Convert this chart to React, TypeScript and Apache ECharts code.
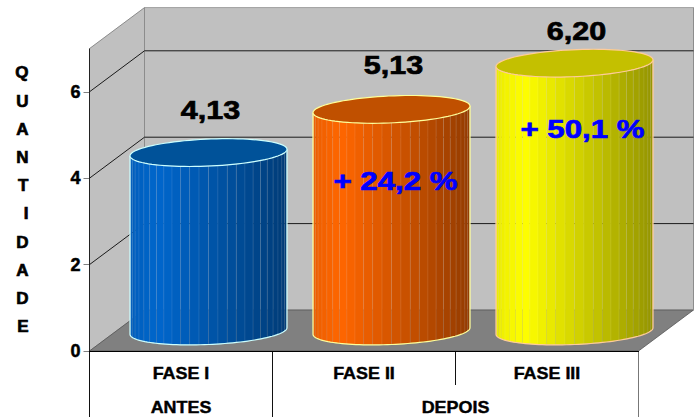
import React, { useEffect, useRef } from "react";
import * as echarts from "echarts";

const categories = ["FASE I", "FASE II", "FASE III"];
const values = [4.13, 5.13, 6.2];
const valueLabels = ["4,13", "5,13", "6,20"];
const percentLabels = ["", "+ 24,2 %", "+ 50,1 %"];
const yTicks = [0, 2, 4, 6];
const gridTicks = [2, 4, 6];
const yTitle = ["Q", "U", "A", "N", "T", "I", "D", "A", "D", "E"];
const groupNames = ["ANTES", "DEPOIS"];
const groupFirst = [0, 1];
const groupLast = [0, 2];

// layout and styling of the 3D scene
const DX = 55;
const DY = 41;
const RX = 78.5;
const RY = 13.5;
const SHEAR = 3.3;
const FACETS = 26;
const LABEL_LIFT = [42.5, 44, 32];
const PCT_SHIFT: [number, number][] = [[0, 0], [4, 72], [8, 66]];
const SIDE = [[0, 102, 204], [255, 102, 0], [255, 255, 0]];
const TOP = ["#005299", "#C05000", "#C4C000"];
const EDGE = ["#CCFFFF", "#FFFF99", "#FFCC99"];
const TEXT_FONT = "Liberation Sans, Arial, sans-serif";

function shade(rgb: number[], u: number) {
  const f = u < 0.18 ? 0.92 + (0.08 * u) / 0.18 : 1 - (0.42 * (u - 0.18)) / 0.82;
  return `rgb(${rgb.map((c) => Math.round(c * f)).join(",")})`;
}

function ellipsePoint(cx: number, cy: number, t: number): number[] {
  return [cx + RX * Math.cos(t), cy + RY * Math.sin(t) - SHEAR * Math.cos(t)];
}

function label(text: string, x: number, y: number, size: number, scaleX: number, fill: string, weight = 0.5) {
  return {
    type: "text",
    x,
    y,
    scaleX,
    style: { text, x: 0, y: 0, align: "center", verticalAlign: "middle", fill, stroke: fill, lineWidth: weight, font: `bold ${size}px ${TEXT_FONT}` },
  };
}

function wallsItem(params: any, api: any) {
  const cs = params.coordSys;
  const x0 = cs.x;
  const x1 = cs.x + cs.width;
  const yB = api.coord([0, 0])[1];
  const yT = cs.y;
  return {
    type: "group",
    children: [
      { type: "rect", shape: { x: x0 + DX, y: yT - DY, width: cs.width, height: yB - yT }, style: { fill: "#C0C0C0", stroke: "#A0A0A0", lineWidth: 1 } },
      { type: "polygon", shape: { points: [[x0, yT], [x0 + DX, yT - DY], [x0 + DX, yB - DY], [x0, yB]] }, style: { fill: "#C0C0C0", stroke: "#8c8c8c", lineWidth: 1 } },
      { type: "polygon", shape: { points: [[x0, yB], [x1, yB], [x1 + DX, yB - DY], [x0 + DX, yB - DY]] }, style: { fill: "#808080", stroke: "#555", lineWidth: 0.8 } },
      { type: "line", shape: { x1: x0, y1: yT, x2: x0, y2: yB }, style: { stroke: "#222", lineWidth: 1 } },
      { type: "line", shape: { x1: x1 + DX, y1: yT - DY, x2: x1 + DX, y2: yB - DY }, style: { stroke: "#8c8c8c", lineWidth: 1 } },
    ],
  };
}

function gridItem(params: any, api: any) {
  const cs = params.coordSys;
  const y = api.coord([0, api.value(0)])[1];
  return {
    type: "polyline",
    shape: { points: [[cs.x, y], [cs.x + DX, y - DY], [cs.x + cs.width + DX, y - DY]] },
    style: { fill: "none", stroke: "#1a1a1a", lineWidth: 1 },
  };
}

function barItem(params: any, api: any) {
  const i = api.value(0);
  const p0 = api.coord([i, 0]);
  const p1 = api.coord([i, api.value(1)]);
  const cx = p0[0] + DX / 2;
  const base = p0[1] - DY / 2 + 0.5;
  const top = p1[1] - DY / 2 + 0.5;
  const children: any[] = [];
  for (let k = 0; k < FACETS; k++) {
    const a0 = Math.PI - (k * Math.PI) / FACETS;
    const a1 = Math.PI - ((k + 1) * Math.PI) / FACETS;
    const points: number[][] = [];
    points.push(ellipsePoint(cx, top, a0), ellipsePoint(cx, top, a1));
    for (let s = 0; s <= 4; s++) {
      points.push(ellipsePoint(cx, base, a1 + ((a0 - a1) * s) / 4));
    }
    const u = 0.5 * (1 + (Math.cos(a0) + Math.cos(a1)) / 2);
    children.push({
      type: "polygon",
      shape: { points },
      style: { fill: shade(SIDE[i], u), stroke: "rgba(255,255,255,0.12)", lineWidth: 0.6 },
    });
  }
  const front: number[][] = [];
  for (let s = 0; s <= 60; s++) front.push(ellipsePoint(cx, base, Math.PI - (s * Math.PI) / 60));
  const outline = [ellipsePoint(cx, top, Math.PI), ...front, ellipsePoint(cx, top, 0)];
  children.push({ type: "polyline", shape: { points: outline }, style: { fill: "none", stroke: EDGE[i], lineWidth: 1.2 } });
  const ring: number[][] = [];
  for (let s = 0; s < 90; s++) ring.push(ellipsePoint(cx, top, (s * 2 * Math.PI) / 90));
  children.push({ type: "polygon", shape: { points: ring }, style: { fill: TOP[i], stroke: EDGE[i], lineWidth: 1.2 } });
  children.push(label(valueLabels[i], cx + 2, top - LABEL_LIFT[i], 25, 1.22, "#000", 0.7));
  if (percentLabels[i]) {
    children.push(label(percentLabels[i], cx + PCT_SHIFT[i][0], top + PCT_SHIFT[i][1], 25, 1.25, "#0000FF", 0.7));
  }
  return { type: "group", children };
}

function tableItem(params: any, api: any) {
  const cs = params.coordSys;
  const yB = api.coord([0, 0])[1];
  const band = cs.width / categories.length;
  const x0 = cs.x;
  const mk = (x: number, y2: number, stroke: string) => ({ type: "line", shape: { x1: x, y1: yB, x2: x, y2 }, style: { stroke, lineWidth: 1 } });
  const children: any[] = [
    mk(x0, 417, "#111"),
    mk(x0 + band, 417, "#111"),
    mk(x0 + 2 * band, 385, "#111"),
    mk(x0 + 3 * band, 417, "#777"),
  ];
  categories.forEach((name, i) => {
    children.push(label(name, api.coord([i, 0])[0], 373.5, 16, 1.12, "#000", 0.4));
  });
  groupNames.forEach((name, g) => {
    const c = (api.coord([groupFirst[g], 0])[0] + api.coord([groupLast[g], 0])[0]) / 2;
    children.push(label(name, c, 408, 16, 1.12, "#000", 0.4));
  });
  return { type: "group", children };
}

export default function App() {
  const ref = useRef<HTMLDivElement>(null);
  useEffect(() => {
    const chart = echarts.init(ref.current!, undefined, { renderer: "svg" });
    chart.setOption({
      animation: false,
      backgroundColor: "#fff",
      grid: { left: 89.5, top: 48.6, width: 549, height: 302.4 },
      xAxis: {
        type: "category",
        data: categories,
        z: 10,
        axisLine: { show: true, lineStyle: { color: "#000", width: 1.2 } },
        axisTick: { show: false },
        axisLabel: { show: false },
      },
      yAxis: {
        type: "value",
        min: 0,
        max: 7,
        name: yTitle.join("\n"),
        nameLocation: "middle",
        nameRotate: 0,
        nameGap: 61,
        nameTextStyle: { color: "#000", fontFamily: TEXT_FONT, fontWeight: "bold", fontSize: 17, lineHeight: 28.2, textBorderColor: "#000", textBorderWidth: 0.7 },
        splitLine: { show: false },
        axisLine: { show: false },
        axisTick: { show: true, length: 6, customValues: yTicks, lineStyle: { color: "#808080" } },
        axisLabel: { color: "#000", fontFamily: TEXT_FONT, fontWeight: "bold", fontSize: 18, margin: 9, customValues: yTicks, textBorderColor: "#000", textBorderWidth: 0.5 },
      },
      series: [
        { type: "custom", name: "walls", z: 1, silent: true, data: [[0]], renderItem: wallsItem },
        { type: "custom", name: "grid", z: 2, silent: true, data: gridTicks.map((t) => [t]), renderItem: gridItem },
        { type: "custom", name: "table", z: 3, silent: true, data: [[0]], renderItem: tableItem },
        { type: "custom", name: "bars", z: 4, silent: true, data: values.map((v, i) => [i, v]), encode: { x: 0, y: 1 }, renderItem: barItem },
      ],
    });
    return () => chart.dispose();
  }, []);
  return <div ref={ref} style={{ position: "fixed", left: 0, top: 0, width: 699, height: 417 }} />;
}
